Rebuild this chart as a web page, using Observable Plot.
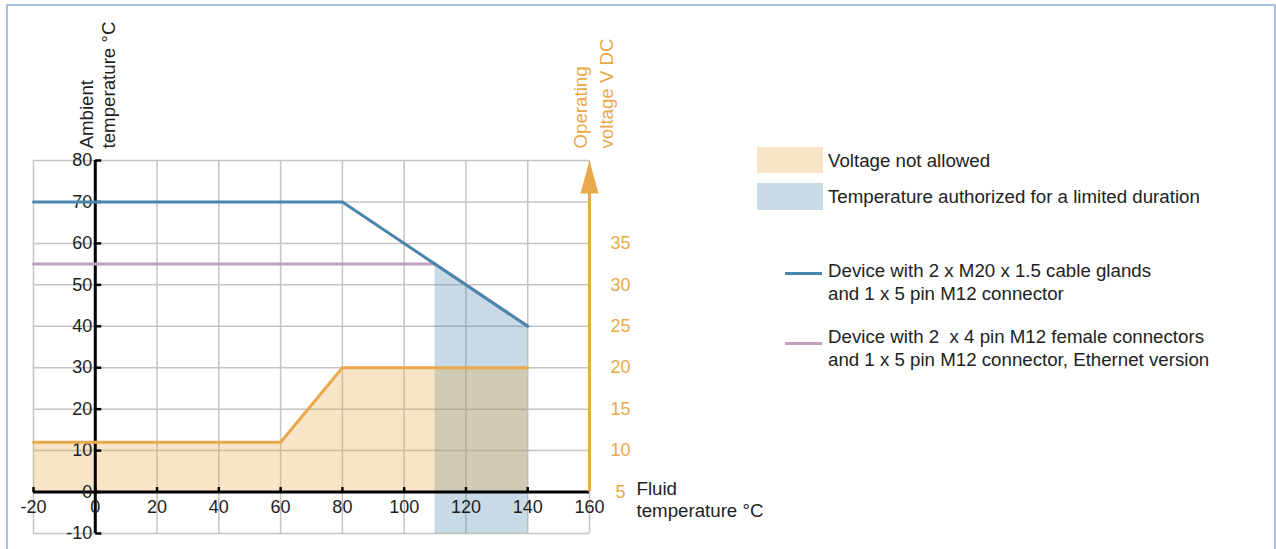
<!DOCTYPE html>
<html><head><meta charset="utf-8">
<script src="https://cdn.jsdelivr.net/npm/d3@7"></script>
<script src="https://cdn.jsdelivr.net/npm/@observablehq/plot@0.6"></script>
<style>
html,body{margin:0;padding:0;background:#fff;}
body{width:1276px;height:549px;position:relative;overflow:hidden;font-family:"Liberation Sans",Arial,Helvetica,sans-serif;}
#frame{position:absolute;left:6px;top:4px;width:1270px;height:600px;border:2px solid #aabfda;border-bottom:none;box-sizing:border-box;}
#chart{position:absolute;left:0;top:0;}
.sw{position:absolute;}
.lt{position:absolute;font-size:18.7px;line-height:23px;color:#222;white-space:pre;}
</style></head><body>
<div id="frame"></div>
<div id="chart"></div>
<div id="legend"></div>
<script>
// ---- data ----
const xTicks = [-20, 0, 20, 40, 60, 80, 100, 120, 140, 160];
const yTicks = [-10, 0, 10, 20, 30, 40, 50, 60, 70, 80];
const voltTicks = [5, 10, 15, 20, 25, 30, 35];

const fluidBlue = [-20, 80, 140];
const ambientBlue = [70, 70, 40];
const fluidPurple = [-20, 110, 140];
const ambientPurple = [55, 55, 40];
const fluidOrange = [-20, 60, 80, 140];
const voltOrange = [11, 11, 20, 20];
const fluidLimited = [110, 140];
const ambientLimited = [55, 40];

const legendLabels = [
  "Voltage not allowed",
  "Temperature authorized for a limited duration",
  "Device with 2 x M20 x 1.5 cable glands\nand 1 x 5 pin M12 connector",
  "Device with 2  x 4 pin M12 female connectors\nand 1 x 5 pin M12 connector, Ethernet version"
];
const xTitle = "Fluid\ntemperature °C";
const yTitle = "Ambient\ntemperature °C";
const vTitle = "Operating\nvoltage V DC";

// ---- styles ----
const BLUE = "#4a86ab", PURPLE = "#c29fbd", ORANGE = "#e9a94a", GRID = "#c4c4c4", INK = "#1e1e1e";
const xDomain = [xTicks[0], xTicks[xTicks.length - 1]];
const yDomain = [yTicks[0], yTicks[yTicks.length - 1]];
const voltToAmbient = v => (v - 5) * 2; // right-axis mapping: 5 V at 0 °C, 5 V per 10 °C

const zip = (xs, ys) => xs.map((x, i) => ({x, y: ys[i]}));
const blue = zip(fluidBlue, ambientBlue);
const purple = zip(fluidPurple, ambientPurple);
const orange = zip(fluidOrange, voltOrange.map(voltToAmbient));
const limited = zip(fluidLimited, ambientLimited);

const tickRight = {draw(ctx) { ctx.moveTo(0, 0); ctx.lineTo(6, 0); }};
const tickUp = {draw(ctx) { ctx.moveTo(0, 0); ctx.lineTo(0, -5); }};
const arrowHead = {draw(ctx) { ctx.moveTo(0, 0); ctx.lineTo(9, 33); ctx.lineTo(-9, 33); ctx.closePath(); }};

const plot = Plot.plot({
  width: 770, height: 549,
  marginLeft: 33, marginRight: 181, marginTop: 160, marginBottom: 16,
  x: {domain: xDomain, axis: null},
  y: {domain: yDomain, axis: null},
  style: {fontFamily: '"Liberation Sans", Arial, Helvetica, sans-serif', fontSize: "18px", background: "transparent", overflow: "visible"},
  marks: [
    Plot.gridX(xTicks, {stroke: GRID, strokeOpacity: 1, strokeWidth: 1.5}),
    Plot.gridY(yTicks, {stroke: GRID, strokeOpacity: 1, strokeWidth: 1.5}),
    Plot.areaY(limited, {x: "x", y1: yDomain[0], y2: "y", fill: BLUE, fillOpacity: 0.3}),
    Plot.areaY(orange, {x: "x", y1: 0, y2: "y", fill: ORANGE, fillOpacity: 0.3}),
    // axes
    Plot.ruleY([0], {x1: xDomain[0], x2: xDomain[1], stroke: "#000", strokeWidth: 3}),
    Plot.ruleX([0], {y1: yDomain[0], y2: yDomain[1], stroke: "#000", strokeWidth: 3}),
    Plot.dot(yTicks, {x: 0, y: d => d, symbol: tickRight, stroke: "#000", strokeWidth: 2.5, r: 4}),
    Plot.dot(xTicks.slice(0, -1), {x: d => d, y: 0, symbol: tickUp, stroke: "#000", strokeWidth: 2.5, r: 4}),
    Plot.text(yTicks, {x: 0, y: d => d, text: d => String(d), textAnchor: "end", dx: -3, fill: INK}),
    Plot.text(xTicks, {x: d => d, y: 0, text: d => String(d), dy: 15, lineAnchor: "middle", fill: INK}),
    // right voltage axis
    Plot.ruleX([xDomain[1]], {y1: voltToAmbient(voltTicks[0]), y2: yDomain[1] - 6, stroke: ORANGE, strokeWidth: 3}),
    Plot.dot([xDomain[1]], {x: d => d, y: yDomain[1], symbol: arrowHead, fill: ORANGE, stroke: "none", r: 5}),
    Plot.text(voltTicks, {x: xDomain[1], y: v => voltToAmbient(v), text: v => String(v), dx: 31, fill: ORANGE}),
    // series
    Plot.line(purple, {x: "x", y: "y", stroke: PURPLE, strokeWidth: 3}),
    Plot.line(blue, {x: "x", y: "y", stroke: BLUE, strokeWidth: 3}),
    Plot.line(orange, {x: "x", y: "y", stroke: ORANGE, strokeWidth: 3}),
    // titles
    Plot.text([yTitle], {x: 0, y: yDomain[1], text: d => d, rotate: -90, textAnchor: "start", lineAnchor: "bottom", dx: 20, dy: -12, fontSize: 18.7, lineHeight: 1.2, fill: INK}),
    Plot.text([vTitle], {x: xDomain[1], y: yDomain[1], text: d => d, rotate: -90, textAnchor: "start", lineAnchor: "bottom", dx: 23, dy: -12, fontSize: 18.7, lineHeight: 1.35, fill: ORANGE}),
    Plot.text([xTitle], {x: xDomain[1], y: 0, text: d => d, textAnchor: "start", lineAnchor: "top", dx: 47, dy: -13, fontSize: 18.7, lineHeight: 1.2, fill: INK})
  ]
});
document.getElementById("chart").appendChild(plot);

// ---- legend ----
const legend = document.getElementById("legend");
const legendStyles = [
  {kind: "box", color: ORANGE, sw: [757, 147, 66, 26], text: [828, 148.5]},
  {kind: "box", color: BLUE, sw: [757, 183, 66, 27], text: [828, 184.5]},
  {kind: "line", color: BLUE, sw: [785, 271.5, 37, 3], text: [828, 258.5]},
  {kind: "line", color: PURPLE, sw: [785, 341.5, 37, 3], text: [828, 324.5]}
];
legendLabels.forEach((label, i) => {
  const s = legendStyles[i];
  const sw = document.createElement("div");
  sw.className = "sw";
  Object.assign(sw.style, {left: s.sw[0] + "px", top: s.sw[1] + "px", width: s.sw[2] + "px", height: s.sw[3] + "px",
    background: s.color, opacity: s.kind === "box" ? 0.3 : 1});
  legend.appendChild(sw);
  const t = document.createElement("div");
  t.className = "lt";
  t.style.left = s.text[0] + "px";
  t.style.top = s.text[1] + "px";
  t.textContent = label;
  legend.appendChild(t);
});
</script>
</body></html>
